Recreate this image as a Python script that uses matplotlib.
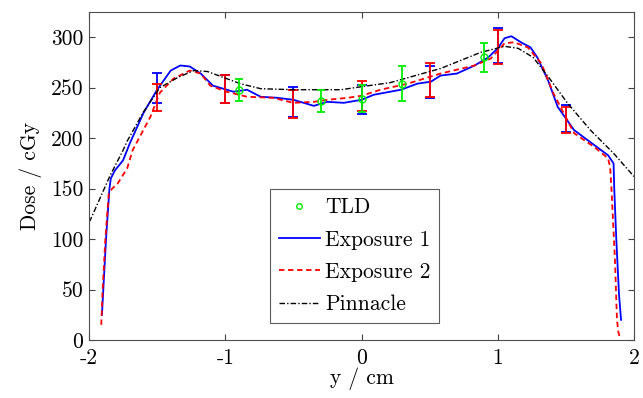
import matplotlib
matplotlib.use("Agg")
import matplotlib.pyplot as plt

plt.rcParams['font.family'] = ['cmr10', 'DejaVu Serif']
plt.rcParams['axes.unicode_minus'] = False
plt.rcParams['mathtext.fontset'] = 'cm'

# Exposure 1 (film, blue)
exp1_x = [-1.905, -1.895, -1.875, -1.85, -1.84, -1.81, -1.75, -1.70, -1.60, -1.50, -1.40, -1.33,
          -1.26, -1.18, -1.09, -0.94, -0.84, -0.74, -0.62, -0.50, -0.35, -0.25, -0.13, 0.0,
          0.09, 0.29, 0.41, 0.51, 0.58, 0.70, 0.83, 0.93, 1.00, 1.05, 1.10, 1.17, 1.24, 1.29,
          1.37, 1.44, 1.56, 1.69, 1.81, 1.85, 1.855, 1.87, 1.89, 1.905]
exp1_d = [25, 50, 100, 150, 160, 168, 178, 195, 225, 248, 267, 272,
          271, 264, 252, 246, 248, 241, 240, 238, 232, 236, 235, 238,
          243, 248, 254, 256, 262, 264, 272, 280, 289, 299, 301, 295, 290, 280,
          257, 231, 208, 195, 183, 175, 150, 100, 45, 20]

# Exposure 2 (film, red)
exp2_x = [-1.91, -1.90, -1.88, -1.855, -1.83, -1.79, -1.72, -1.68, -1.55, -1.48, -1.38, -1.26,
          -1.18, -1.11, -0.99, -0.84, -0.65, -0.50, -0.35, -0.25, -0.10, 0.0, 0.14, 0.34,
          0.58, 0.83, 0.95, 1.05, 1.12, 1.22, 1.32, 1.41, 1.56, 1.71, 1.81, 1.825, 1.835,
          1.86, 1.875, 1.885, 1.895]
exp2_d = [15, 50, 100, 145, 150, 155, 170, 188, 221, 245, 259, 267,
          264, 252, 246, 241, 240, 235, 236, 238, 240, 242, 248, 254,
          264, 272, 279, 294, 295, 290, 274, 244, 205, 191, 180, 171, 149,
          80, 20, 8, 3]

# Pinnacle (TPS, black)
pin_x = [-2.0, -1.99, -1.845, -1.75, -1.72, -1.60, -1.48, -1.35, -1.23, -1.13, -1.01, -0.89,
         -0.74, -0.5, -0.30, -0.15, 0.0, 0.21, 0.58, 0.875, 1.05, 1.15, 1.26, 1.37, 1.51,
         1.68, 1.85, 2.0]
pin_d = [117, 119, 163, 188, 197, 226, 250, 260, 267, 266, 260, 254,
         249, 248, 248, 248, 251, 255, 269, 285, 291, 289, 280, 261, 235,
         208, 185, 162]

# Error bars on film
err_x = [-1.5, -1.0, -0.5, 0.0, 0.5, 1.0, 1.5]
exp1_err_d = [250, 249, 236, 238.5, 255.5, 291.5, 219.5]
exp1_err = [15, 14, 15, 14.5, 15.5, 17.5, 13.5]
exp2_err_d = [240.5, 249, 234, 242, 257.5, 290, 218]
exp2_err = [13.5, 14, 14, 15, 16.5, 17, 13]

# TLD
tld_x = [-0.9, -0.3, 0.0, 0.3, 0.9]
tld_d = [248, 237, 239, 254, 280]
tld_err = [11, 11, 13.5, 17, 14.5]

xticks = [-2, -1, 0, 1, 2]
xtick_labels = ['-2', '-1', '0', '1', '2']
yticks = [0, 50, 100, 150, 200, 250, 300]

FS = 15.5

fig = plt.figure(figsize=(6.43, 3.98), dpi=100)
ax = fig.add_axes([89/643, 58/398, 545/643, 328/398])

l1, = ax.plot(exp1_x, exp1_d, '-', color='#0000ff', lw=1.3, label='Exposure 1')
ax.errorbar(err_x, exp1_err_d, yerr=exp1_err, fmt='none', ecolor='#0000ff', elinewidth=1.3,
            capsize=3.5, capthick=1.3)
l2, = ax.plot(exp2_x, exp2_d, '--', color='#ff0000', lw=1.3, dashes=(3, 2), label='Exposure 2')
ax.errorbar(err_x, exp2_err_d, yerr=exp2_err, fmt='none', ecolor='#ff0000', elinewidth=1.3,
            capsize=3.5, capthick=1.3)
l3, = ax.plot(pin_x, pin_d, '-.', color='black', lw=1.0, dashes=(4, 1.5, 1, 1.5), label='Pinnacle')
ax.errorbar(tld_x, tld_d, yerr=tld_err, fmt='none', ecolor='#00ee00', elinewidth=1.3,
            capsize=3, capthick=1.3)
l0, = ax.plot(tld_x, tld_d, 'o', ms=5, mfc='none', mec='#00ee00', mew=1.0, label='TLD', ls='none')

ax.set_xlim(-2, 2)
ax.set_ylim(0, 325)
ax.set_xticks(xticks)
ax.set_xticklabels(xtick_labels)
ax.set_yticks(yticks)
ax.tick_params(direction='in', top=True, right=True, length=4, width=0.8,
               labelsize=FS, colors='0.25', labelcolor='black')
ax.tick_params(axis='x', pad=6)
ax.tick_params(axis='y', pad=4)
for s in ax.spines.values():
    s.set_color('0.3')
    s.set_linewidth(0.8)

ax.set_xlabel('y / cm', fontsize=FS, labelpad=0)
ax.set_ylabel('Dose / cGy', fontsize=FS, labelpad=6)

leg = ax.legend(handles=[l0, l1, l2, l3], loc='upper left',
                bbox_to_anchor=((270-89)/545, (340-189)/328),
                fontsize=FS, frameon=True, fancybox=False, handlelength=1.9,
                handletextpad=0.25, borderpad=0.4, labelspacing=0.6, borderaxespad=0,
                markerscale=0.8)
leg.get_frame().set_edgecolor('0.2')
leg.get_frame().set_linewidth(0.8)

fig.savefig('out.png', dpi=100)
